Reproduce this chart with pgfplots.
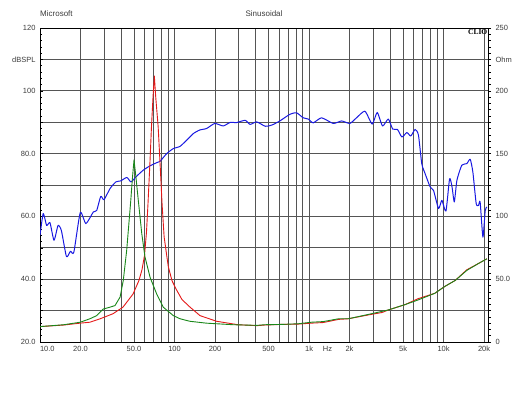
\documentclass[border=0pt]{standalone}
\usepackage{fontspec}
\setmainfont{Liberation Sans}
\newfontfamily\cliofont{Liberation Serif}
\usepackage{pgfplots}
\pgfplotsset{compat=1.18}
\definecolor{splblue}{RGB}{25,25,225}
\definecolor{zred}{RGB}{228,25,25}
\definecolor{zgreen}{RGB}{25,135,25}
\definecolor{gridgray}{RGB}{85,85,85}
\definecolor{txt}{RGB}{60,60,60}

\pgfplotstableread{
f db
10 54.0
10.57 60.9
11.2 57.1
11.86 58.0
12.71 52.4
13.62 57.1
14.42 55.5
15.73 47.2
16.84 48.9
17.85 48.6
19.92 61.2
21.95 57.7
24.9 61.4
26.4 61.9
28.3 66.4
29.9 65.3
33.2 68.9
36.7 71.0
39.8 71.3
44.2 72.4
47.5 71.0
52.3 72.8
58.5 74.7
65.7 76.1
73.7 77.1
77.9 77.5
87.5 80.0
98.0 81.6
109.9 82.3
123.3 84.3
138.2 86.4
153.7 87.5
173.3 88.0
199.2 89.6
230.3 88.8
258.3 89.9
290.5 89.9
335.2 90.6
364.4 89.3
408.2 90.1
472.9 88.7
530.3 89.1
606.6 90.4
719.7 92.5
806.7 93.0
905.3 91.4
986.2 91.0
1074.5 89.8
1239.7 91.4
1513.7 89.6
1748 90.4
2010 89.6
2254 91.4
2603 93.5
2948 89.4
3213 93.1
3520 88.8
3883 91.0
4188 87.8
4541 87.7
4901 85.3
5336 86.7
5707 85.6
6145 87.7
6506 85.9
6887 76.8
7294 73.6
7948 69.4
8419 68.3
9177 62.5
9716 65.1
10417 61.7
11087 72.0
11559 69.4
12021 64.6
12569 71.5
13665 76.3
14891 76.8
15775 78.2
16517 74.1
17477 64.1
18179 63.5
18706 64.6
19613 53.4
20412 61.9
21004 63.0
}\spl

\pgfplotstableread{
f ohm
10 12.25
15.03 13.5
19.82 15.0
23.5 15.75
28.0 18.5
34.9 22.5
41.4 27.75
49.2 38.25
54.4 49.0
57.3 57.5
59.8 68.75
61.9 87.5
63.5 110
65.8 145
67.4 171.25
69.2 195
70.8 211.75
72.5 195
75.6 171.25
78.7 135
80.8 110
83.7 83.75
87.2 70
89.9 60
95.8 48.75
103.8 41.25
113.7 33.75
130.4 27.75
154.7 21
205.4 16.5
296.6 13.75
410.3 13.0
468.7 13.5
622 14.0
831 14.25
1042 15.0
1276 15.5
1658 18.0
1959 18.5
2912 22.0
3500 23.5
3879 25.5
5168 29.75
6470 34.5
8598 38.75
10217 44.25
12204 49
14891 57.5
18168 62.5
21004 66.25
}\zred

\pgfplotstableread{
f ohm
10 12.25
15.03 13.75
19.92 15.75
23.5 18.5
26.4 21
29.5 26.25
33.2 27.75
36.1 29
39.4 35.75
41.6 49
44.1 73
47.3 112.75
48.6 130
50.0 145
51.8 130
53.8 112.75
57.1 86.25
60.3 67.75
65.8 51.5
73.7 38.25
82.4 27.75
98.0 21
109.9 18.5
129.9 16.5
172.3 15
272.9 13.75
410.3 13.25
468.7 13.75
622 14.0
831 14.5
1042 15.75
1276 16.25
1658 18.5
1959 18.5
2912 22.5
3879 25.5
5168 29.75
6470 33.5
8598 38.75
10217 44.25
12204 49
14891 57
18168 62.5
21004 66.25
}\zgreen

\begin{document}
\begin{tikzpicture}
\useasboundingbox (-40pt,-56pt) rectangle (490pt,342pt);
\begin{axis}[
  scale only axis, width=448pt, height=314pt,
  xmode=log, xmin=10, xmax=21400,
  ymin=20, ymax=120,
  axis line style={black, line width=0.9pt},
  xtick={10,20,50,100,200,500,1000,2000,5000,10000,20000},
  xticklabels={\makebox[0pt][l]{10.0},20.0,50.0,100,200,500,1k,2k,5k,10k,20k},
  extra x ticks={1370},
  extra x tick labels={Hz},
  extra x tick style={grid=none, major tick length=0pt},
  minor xtick={30,40,60,70,80,90,300,400,600,700,800,900,3000,4000,6000,7000,8000,9000},
  xmajorgrids, xminorgrids,
  ytick={20,30,...,120},
  yticklabels={20.0,,40.0,,60.0,,80.0,,100,dBSPL,120},
  minor y tick num=4,
  ymajorgrids,
  xtick pos=bottom, ytick pos=left,
  tick align=inside,
  major tick length=3pt, minor tick length=2.5pt,
  x tick style={draw=none},
  y tick style={black, line width=0.5pt},
  major grid style={draw=gridgray, line width=0.85pt},
  minor grid style={draw=gridgray, line width=0.85pt},
  tick label style={font=\fontsize{7.5}{9}\selectfont, text=txt},
  xticklabel style={yshift=-1pt},
  yticklabel style={xshift=-1pt},
  clip mode=individual,
]
\addplot[splblue, line width=1pt, line join=round, smooth, tension=0.35] table[x=f, y=db] {\spl};
\node[anchor=west, font=\fontsize{8}{9}\selectfont, text=txt, inner sep=0pt] at (rel axis cs:0,1) [yshift=14pt] {Microsoft};
\node[font=\fontsize{8}{9}\selectfont, text=txt, inner sep=0pt] at (rel axis cs:0.5,1) [yshift=14pt] {Sinusoidal};
\node[anchor=north east, font=\cliofont\bfseries\fontsize{7.5}{8}\selectfont, inner sep=0pt] at (rel axis cs:1,1) [xshift=-0.5pt, yshift=-1.5pt] {CLIO};
\end{axis}
\begin{axis}[
  scale only axis, width=448pt, height=314pt,
  xmode=log, xmin=10, xmax=21400,
  ymin=0, ymax=250,
  axis x line=none,
  axis y line*=right,
  axis line style={black, line width=0.9pt},
  ytick={0,25,...,250},
  yticklabels={0,,50.0,,100,,150,,200,Ohm,250},
  minor y tick num=4,
  tick align=outside,
  major tick length=3pt, minor tick length=2.5pt,
  y tick style={black, line width=0.5pt},
  tick label style={font=\fontsize{7.5}{9}\selectfont, text=txt},
  yticklabel style={xshift=1pt},
]
\addplot[zred, line width=0.9pt, line join=round] table[x=f, y=ohm] {\zred};
\addplot[zgreen, line width=0.9pt, line join=round] table[x=f, y=ohm] {\zgreen};
\end{axis}
\end{tikzpicture}
\end{document}
